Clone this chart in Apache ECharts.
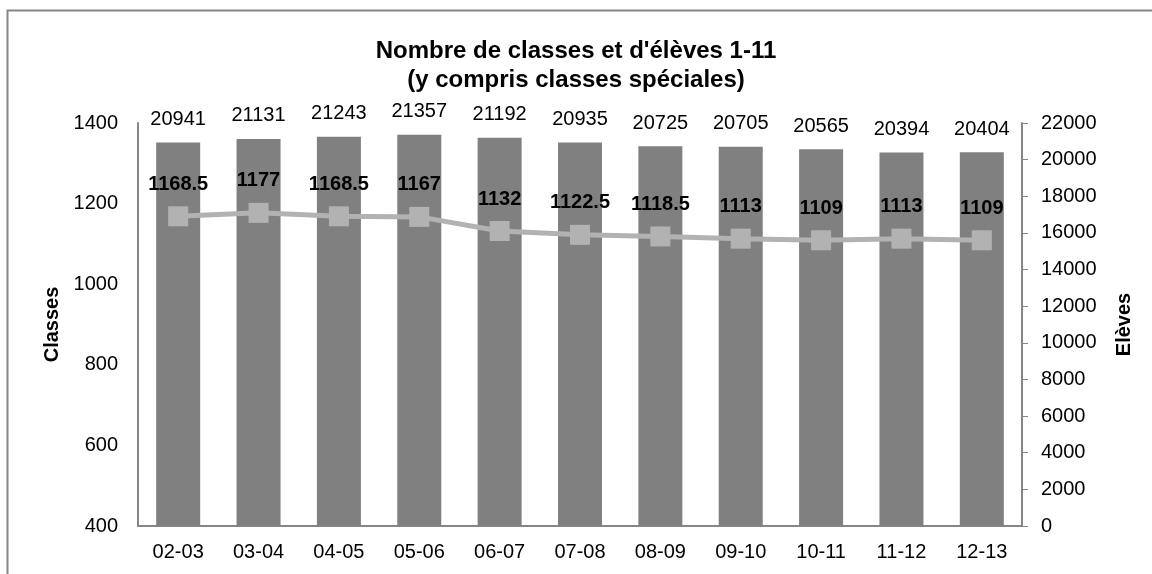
<!DOCTYPE html>
<html>
<head>
<meta charset="utf-8">
<script src="https://cdn.jsdelivr.net/npm/echarts@6/dist/echarts.min.js"></script>
<style>
  html, body { margin: 0; padding: 0; background: #fff; }
  #main { width: 1152px; height: 574px; }
</style>
</head>
<body>
<div id="main"></div>
<script>
  var years = ['02-03', '03-04', '04-05', '05-06', '06-07', '07-08', '08-09', '09-10', '10-11', '11-12', '12-13'];
  var eleves = [20941, 21131, 21243, 21357, 21192, 20935, 20725, 20705, 20565, 20394, 20404];
  var classes = [1168.5, 1177, 1168.5, 1167, 1132, 1122.5, 1118.5, 1113, 1109, 1113, 1109];

  var font = 'Liberation Sans, Arial, sans-serif';
  var plain = function (v) { return String(v); };
  var chart = echarts.init(document.getElementById('main'));
  chart.setOption({
    animation: false,
    backgroundColor: '#fff',
    graphic: [{
      type: 'rect',
      shape: { x: 7.5, y: 10.5, width: 1160, height: 580 },
      style: { fill: 'none', stroke: '#868686', lineWidth: 2 },
      silent: true
    }],
    title: {
      text: "Nombre de classes et d'élèves 1-11\n(y compris classes spéciales)",
      left: 'center',
      top: 32,
      textStyle: { fontFamily: font, fontSize: 24, fontWeight: 'bold', color: '#000', lineHeight: 29 }
    },
    grid: { left: 138, right: 130, top: 123, bottom: 48 },
    xAxis: {
      type: 'category',
      data: years,
      axisLine: { lineStyle: { color: '#868686', width: 2 } },
      axisTick: { show: false },
      axisLabel: { fontFamily: font, fontSize: 20, color: '#000', margin: 16 }
    },
    yAxis: [{
      type: 'value',
      min: 400, max: 1400, interval: 200,
      name: 'Classes',
      nameLocation: 'middle',
      nameGap: 75,
      nameTextStyle: { fontFamily: font, fontSize: 20, fontWeight: 'bold', color: '#000' },
      axisLine: { show: true, lineStyle: { color: '#868686', width: 2 } },
      axisTick: { show: false },
      splitLine: { show: false },
      axisLabel: { fontFamily: font, fontSize: 20, color: '#000', margin: 20, formatter: plain }
    }, {
      type: 'value',
      min: 0, max: 22000, interval: 2000,
      name: 'Elèves',
      nameLocation: 'middle',
      nameGap: 92,
      nameRotate: 90,
      nameTextStyle: { fontFamily: font, fontSize: 20, fontWeight: 'bold', color: '#000' },
      axisLine: { show: true, lineStyle: { color: '#868686', width: 2 } },
      axisTick: { show: true, length: 6, lineStyle: { color: '#868686', width: 1 } },
      splitLine: { show: false },
      axisLabel: { fontFamily: font, fontSize: 20, color: '#000', margin: 19, formatter: plain }
    }],
    series: [{
      type: 'bar',
      yAxisIndex: 1,
      data: eleves,
      barWidth: 44,
      itemStyle: { color: '#808080' },
      label: { show: true, position: 'top', distance: 13, fontFamily: font, fontSize: 20, color: '#000' },
      z: 1
    }, {
      type: 'line',
      yAxisIndex: 0,
      data: classes,
      symbol: 'rect',
      symbolSize: 20,
      lineStyle: { color: '#b2b2b2', width: 5 },
      itemStyle: { color: '#b2b2b2' },
      label: { show: true, position: 'top', distance: 12, fontFamily: font, fontSize: 20, fontWeight: 'bold', color: '#000' },
      z: 2
    }]
  });
</script>
</body>
</html>
